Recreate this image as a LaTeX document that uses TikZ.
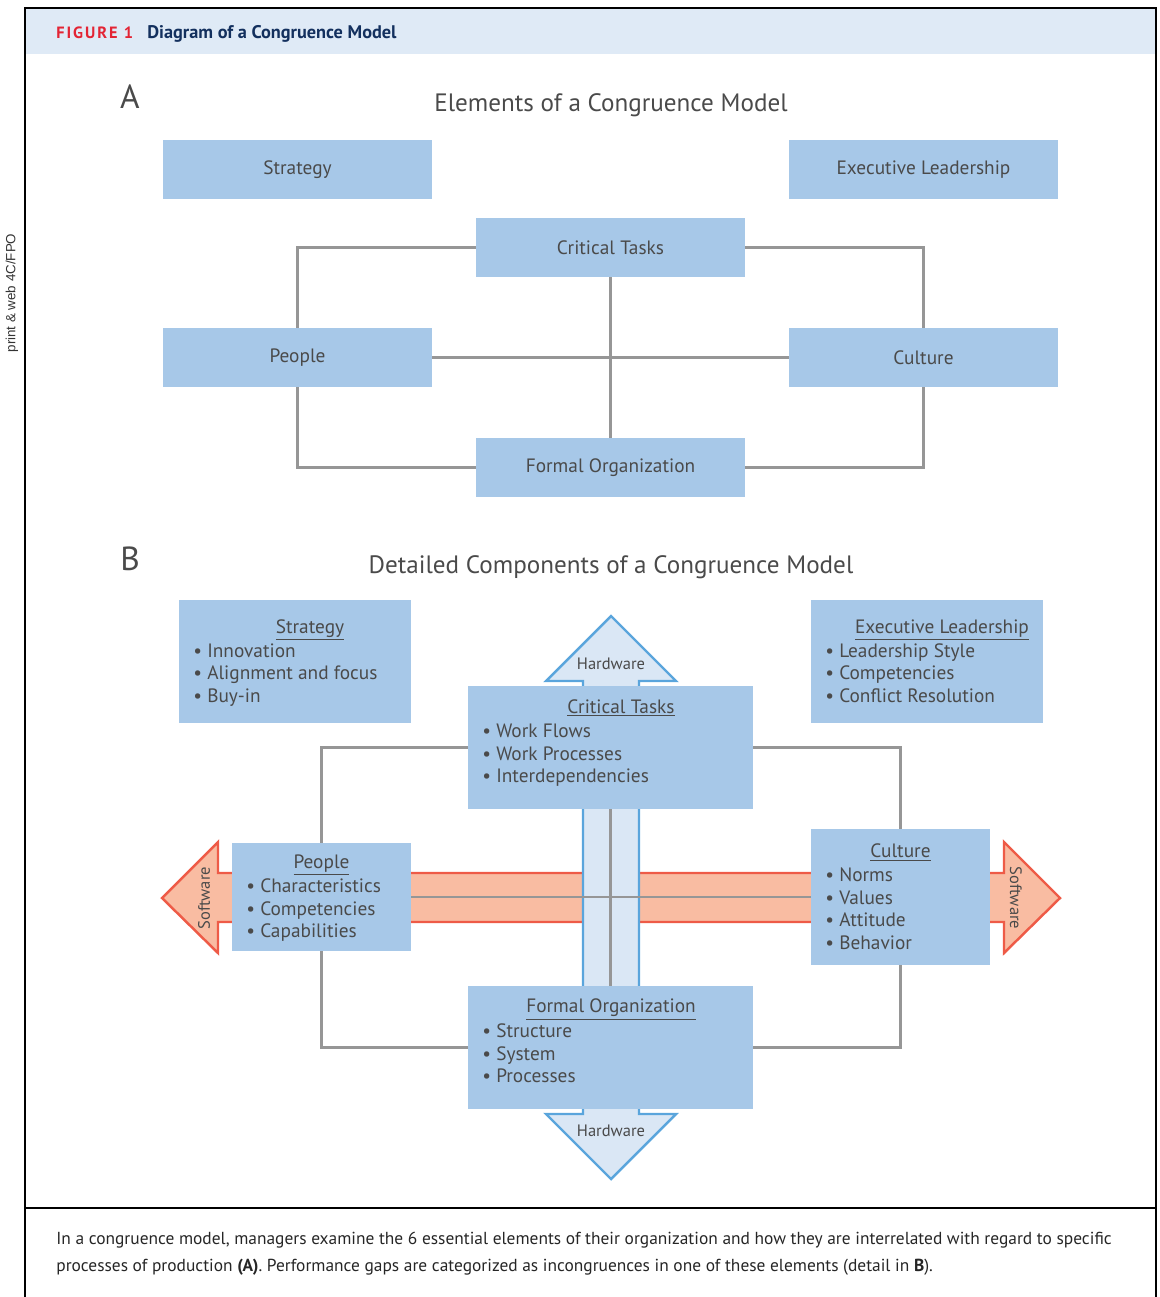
\documentclass[tikz,border=0pt]{standalone}
\usepackage{fontspec}
\setmainfont{PT Sans}
\newfontfamily\sidefont{Liberation Sans}
\usetikzlibrary{arrows.meta}
\definecolor{boxblue}{HTML}{A7C8E8}
\definecolor{headband}{HTML}{DFEAF6}
\definecolor{hwfill}{HTML}{DAE7F5}
\definecolor{hwline}{HTML}{5AA5DC}
\definecolor{swfill}{HTML}{F9BCA2}
\definecolor{swline}{HTML}{EE5B47}
\definecolor{linkgray}{HTML}{969696}
\definecolor{txtgray}{HTML}{4A4A4A}
\definecolor{figred}{HTML}{E32434}
\definecolor{navy}{HTML}{13305E}

\begin{document}
\begin{tikzpicture}[x=0.02cm, y=-0.02cm, every node/.style={inner sep=0pt, text=txtgray},
    elem/.style={fill=boxblue, minimum width=5.38cm, minimum height=1.18cm, font=\fontsize{11}{12}\selectfont},
    detail/.style={fill=boxblue},
    head/.style={anchor=base, font=\fontsize{11}{12}\selectfont},
    items/.style={anchor=base west, align=left, font=\fontsize{11}{12.76}\selectfont},
    link/.style={draw=linkgray, line width=1.2pt},
    title/.style={anchor=base, font=\fontsize{14.3}{16}\selectfont},
    part/.style={anchor=base, font=\fontsize{19}{22}\selectfont},
    arrowtag/.style={font=\fontsize{9.4}{10}\selectfont}]
    \useasboundingbox (0,0) rectangle (1159,1297);
    % frame and header band
    \fill[headband] (26,9) rectangle (1155,54);
    \draw[line width=1.2pt] (25,1297) -- (25,8) -- (1156,8) -- (1156,1297);
    \draw[line width=0.9pt] (25,1208) -- (1156,1208);
    \node[anchor=base west, text=figred, font=\bfseries\fontsize{9.3}{10}\selectfont] (fignum) at (56,39) {\addfontfeature{LetterSpace=12}FIGURE 1};
    \node[anchor=base west, text=navy, font=\bfseries\fontsize{10.4}{11}\selectfont] (figtitle) at (147,39) {Diagram of a Congruence Model};
    \node[rotate=90, text=black!80, font=\sidefont\fontsize{7.6}{8}\selectfont] (fpo) at (12,293) {print \& web 4C/FPO};

    % part A
    \node[part] (partA) at (130,109) {A};
    \node[title] (titleA) at (611,112) {Elements of a Congruence Model};
    \node[elem] (strat) at (297.5,169.5) {Strategy};
    \node[elem] (lead) at (923.5,169.5) {Executive Leadership};
    \node[elem] (tasks) at (610.5,247.5) {Critical Tasks};
    \node[elem] (people) at (297.5,357.5) {People};
    \node[elem] (culture) at (923.5,357.5) {Culture};
    \node[elem] (formal) at (610.5,467.5) {Formal Organization};
    \draw[link] (tasks.west) -| (people.north);
    \draw[link] (tasks.east) -| (culture.north);
    \draw[link] (people.south) |- (formal.west);
    \draw[link] (culture.south) |- (formal.east);
    \draw[link] (tasks.south) -- (formal.north);
    \draw[link] (people.east) -- (culture.west);

    % part B
    \node[part] (partB) at (130,570) {B};
    \node[title] (titleB) at (611,573) {Detailed Components of a Congruence Model};
    % software and hardware arrows
    \draw[fill=swfill, draw=swline, line width=1.4pt] (218,873) -- (218,842) -- (162,898) -- (218,953) -- (218,922)
        -- (1004,922) -- (1004,953) -- (1060,898) -- (1004,842) -- (1004,873) -- cycle;
    \node[arrowtag, rotate=90] (swleft) at (204,898) {Software};
    \node[arrowtag, rotate=-90] (swright) at (1016,898) {Software};
    \draw[fill=hwfill, draw=hwline, line width=1.4pt] (583,681) -- (546,681) -- (611,616) -- (676,681) -- (639,681)
        -- (639,1114) -- (676,1114) -- (611,1179) -- (546,1114) -- (583,1114) -- cycle;
    \node[arrowtag] (hwtop) at (611,664) {Hardware};
    \node[arrowtag] (hwbot) at (611,1131) {Hardware};
    % detail boxes (item lists sit on the baseline of their last line)
    \node[detail, minimum width=4.64cm, minimum height=2.46cm] (bstrat) at (295,661.5) {};
    \node[head] (bstrat-h) at (310,633) {\underline{Strategy}};
    \node[items] (bstrat-i) at (193,702) {• Innovation\\• Alignment and focus\\• Buy-in};
    \node[detail, minimum width=4.64cm, minimum height=2.46cm] (blead) at (927,661.5) {};
    \node[head] (blead-h) at (942,633) {\underline{Executive Leadership}};
    \node[items] (blead-i) at (825,702) {• Leadership Style\\• Competencies\\• Conflict Resolution};
    \node[detail, minimum width=5.7cm, minimum height=2.46cm] (btasks) at (610.5,747.5) {};
    \node[head] (btasks-h) at (621,713) {\underline{Critical Tasks}};
    \node[items] (btasks-i) at (482,782.5) {• Work Flows\\• Work Processes\\• Interdependencies};
    \node[detail, minimum width=3.58cm, minimum height=2.16cm] (bpeople) at (321.5,897) {};
    \node[head] (bpeople-h) at (321.5,868.5) {\underline{People}};
    \node[items] (bpeople-i) at (246,937.5) {• Characteristics\\• Competencies\\• Capabilities};
    \node[detail, minimum width=3.58cm, minimum height=2.72cm] (bculture) at (900.5,897) {};
    \node[head] (bculture-h) at (900.5,857.5) {\underline{Culture}};
    \node[items] (bculture-i) at (825,949) {• Norms\\• Values\\• Attitude\\• Behavior};
    \node[detail, minimum width=5.7cm, minimum height=2.46cm] (bformal) at (610.5,1047.5) {};
    \node[head] (bformal-h) at (611,1012.5) {\underline{Formal Organization}};
    \node[items] (bformal-i) at (482,1082.5) {• Structure\\• System\\• Processes};
    \draw[link] (btasks.west) -| (bpeople.north);
    \draw[link] (btasks.east) -| (bculture.north);
    \draw[link] (bpeople.south) |- (bformal.west);
    \draw[link] (bculture.south) |- (bformal.east);
    \draw[link] (btasks.south) -- (bformal.north);
    \draw[link] (bpeople.east) -- (bculture.west);

    % caption
    \node[anchor=base west, align=left, text=black!85, font=\fontsize{9.9}{15.3}\selectfont] (caption) at (56,1271)
        {In a congruence model, managers examine the 6 essential elements of their organization and how they are interrelated with regard to specific\\
         processes of production \textbf{(A)}. Performance gaps are categorized as incongruences in one of these elements (detail in \textbf{B}).};
\end{tikzpicture}
\end{document}
